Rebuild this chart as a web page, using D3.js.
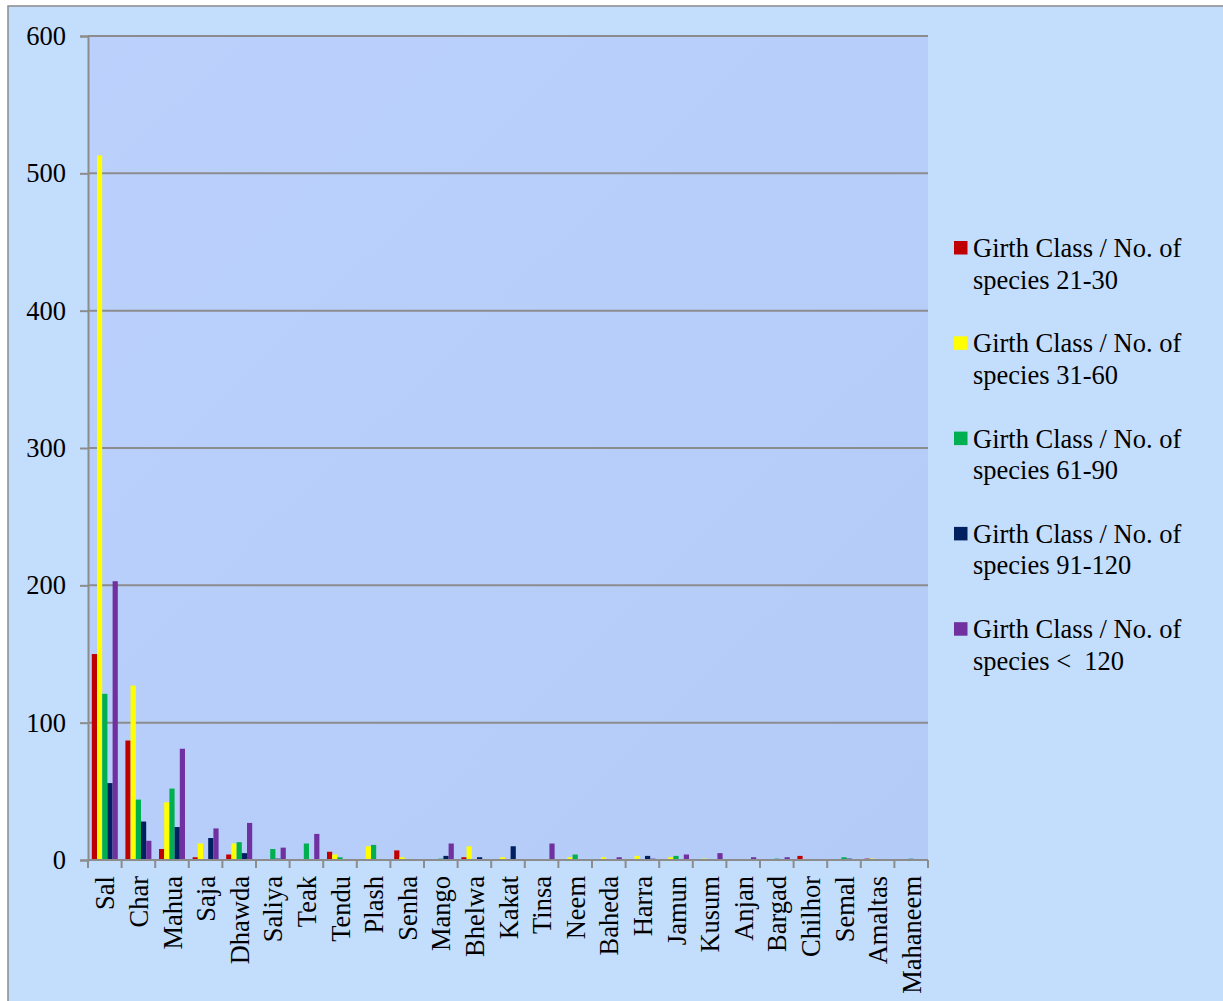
<!DOCTYPE html>
<html>
<head>
<meta charset="utf-8">
<script src="https://cdn.jsdelivr.net/npm/d3@7"></script>
<style>
  html, body { margin: 0; padding: 0; background: #ffffff; }
  svg { display: block; }
  text { font-family: "Liberation Serif", "Times New Roman", serif; fill: #000; }
</style>
</head>
<body>
<svg id="chart" width="1223" height="1001"></svg>
<script>
// ---- data ----
const categories = ["Sal", "Char", "Mahua", "Saja", "Dhawda", "Saliya", "Teak", "Tendu", "Plash", "Senha",
  "Mango", "Bhelwa", "Kakat", "Tinsa", "Neem", "Baheda", "Harra", "Jamun", "Kusum", "Anjan",
  "Bargad", "Chilhor", "Semal", "Amaltas", "Mahaneem"];

const seriesNames = [
  "Girth Class / No. of species 21-30",
  "Girth Class / No. of species 31-60",
  "Girth Class / No. of species 61-90",
  "Girth Class / No. of species 91-120",
  "Girth Class / No. of species <  120"
];

const girth21to30  = [150, 87, 8, 2, 4, 0, 0, 6, 0, 7, 0, 2, 0, 0, 0, 0, 0, 0, 0, 0, 0, 3, 0, 1, 0];
const girth31to60  = [513, 127, 42, 12, 12, 0, 0, 4, 10, 2, 0, 10, 2, 0, 2, 2, 3, 2, 1, 0, 0, 0, 0, 1, 0];
const girth61to90  = [121, 44, 52, 0, 13, 8, 12, 2, 11, 0, 1, 0, 0, 0, 4, 0, 0, 3, 0, 0, 1, 0, 2, 0, 1];
const girth91to120 = [56, 28, 24, 16, 5, 1, 0, 0, 0, 0, 3, 2, 10, 0, 0, 0, 3, 0, 0, 0, 0, 0, 1, 0, 0];
const girthOver120 = [203, 14, 81, 23, 27, 9, 19, 0, 0, 0, 12, 0, 0, 12, 0, 2, 1, 4, 5, 2, 2, 0, 0, 0, 0];

const yTicks = [0, 100, 200, 300, 400, 500, 600];
const seriesColors = ["#C00000", "#FFFF00", "#00B050", "#002060", "#7030A0"];

const seriesValues = [girth21to30, girth31to60, girth61to90, girth91to120, girthOver120];

// ---- layout ----
const svg = d3.select("#chart");
const W = 1223, H = 1001;
const plot = { left: 88, right: 928, top: 36, bottom: 860 };
const FONT = "'Liberation Serif', 'Times New Roman', serif";
const FS = 26.5;

// outer chart area
svg.append("rect").attr("x", 0).attr("y", 0).attr("width", W).attr("height", H).attr("fill", "#ffffff");
svg.append("rect").attr("x", 8).attr("y", 6).attr("width", W + 10).attr("height", H + 10)
  .attr("fill", "#C3DDFD").attr("stroke", "#8A8A8A").attr("stroke-width", 1.5);

// plot background gradient
const defs = svg.append("defs");
const grad = defs.append("linearGradient").attr("id", "plotbg").attr("x1", "0").attr("y1", "0").attr("x2", "1").attr("y2", "1");
grad.append("stop").attr("offset", "0%").attr("stop-color", "#BBD1FC");
grad.append("stop").attr("offset", "100%").attr("stop-color", "#B4CBF8");

svg.append("rect")
  .attr("x", plot.left).attr("y", plot.top)
  .attr("width", plot.right - plot.left).attr("height", plot.bottom - plot.top)
  .attr("fill", "url(#plotbg)");

// scales
const x0 = d3.scaleBand().domain(categories).range([plot.left, plot.right])
  .paddingInner(0.226).paddingOuter(0.113);
const x1 = d3.scaleBand().domain(d3.range(seriesNames.length)).range([0, x0.bandwidth()]);
const y = d3.scaleLinear().domain([0, 600]).range([plot.bottom, plot.top]);

// gridlines
svg.append("g").selectAll("line").data(yTicks.filter(d => d > 0)).join("line")
  .attr("x1", plot.left).attr("x2", plot.right)
  .attr("y1", d => y(d)).attr("y2", d => y(d))
  .attr("stroke", "#8C8C8C").attr("stroke-width", 2);

// bars
const table = categories.map((c, i) => ({ cat: c, vals: seriesValues.map(s => s[i]) }));
const groups = svg.append("g").selectAll("g").data(table).join("g")
  .attr("transform", d => `translate(${x0(d.cat)},0)`);
groups.selectAll("rect").data(d => d.vals.map((v, k) => ({ v, k }))).join("rect")
  .attr("x", d => x1(d.k))
  .attr("width", x1.bandwidth())
  .attr("y", d => y(d.v))
  .attr("height", d => y(0) - y(d.v))
  .attr("fill", d => seriesColors[d.k]);

// y axis
const yAxis = d3.axisLeft(y).tickValues(yTicks).tickSize(8).tickPadding(14).tickFormat(d3.format("d"));
const gy = svg.append("g").attr("transform", `translate(${plot.left},0)`).call(yAxis)
  .attr("font-family", FONT).attr("font-size", FS);
gy.select(".domain").attr("stroke", "#8C8C8C").attr("stroke-width", 2);
gy.selectAll(".tick line").attr("stroke", "#8C8C8C").attr("stroke-width", 2);
gy.selectAll(".tick text").attr("fill", "#000");

// x axis: labels centered on categories, ticks at category boundaries
const xAxis = d3.axisBottom(x0).tickSize(0).tickPadding(0);
const gx = svg.append("g").attr("transform", `translate(0,${plot.bottom})`).call(xAxis)
  .attr("font-family", FONT).attr("font-size", FS);
gx.select(".domain").remove();
gx.selectAll(".tick text")
  .attr("fill", "#000")
  .attr("text-anchor", "end")
  .attr("transform", "rotate(-90)")
  .attr("x", -16)
  .attr("y", 0)
  .attr("dy", "0.36em");

svg.append("line")
  .attr("x1", plot.left).attr("x2", plot.right)
  .attr("y1", plot.bottom).attr("y2", plot.bottom)
  .attr("stroke", "#8C8C8C").attr("stroke-width", 2);

const boundaries = categories.map(c => x0(c) - (x0.step() - x0.bandwidth()) / 2).concat([plot.right]);
svg.append("g").selectAll("line").data(boundaries).join("line")
  .attr("x1", d => d).attr("x2", d => d)
  .attr("y1", plot.bottom).attr("y2", plot.bottom + 8)
  .attr("stroke", "#8C8C8C").attr("stroke-width", 2);

// legend
const legend = svg.append("g").attr("font-family", FONT).attr("font-size", FS);
const legendTop = 241, legendGap = 95.3;
seriesNames.forEach((name, i) => {
  const gy0 = legendTop + i * legendGap;
  legend.append("rect").attr("x", 954).attr("y", gy0).attr("width", 13.5).attr("height", 13.5)
    .attr("fill", seriesColors[i]);
  const splitAt = name.indexOf("species");
  const t = legend.append("text").attr("xml:space", "preserve").style("white-space", "pre");
  t.append("tspan").attr("x", 973).attr("y", gy0 + 16).text(name.slice(0, splitAt).trim());
  t.append("tspan").attr("x", 973).attr("y", gy0 + 47.5).text(name.slice(splitAt));
});
</script>
</body>
</html>
